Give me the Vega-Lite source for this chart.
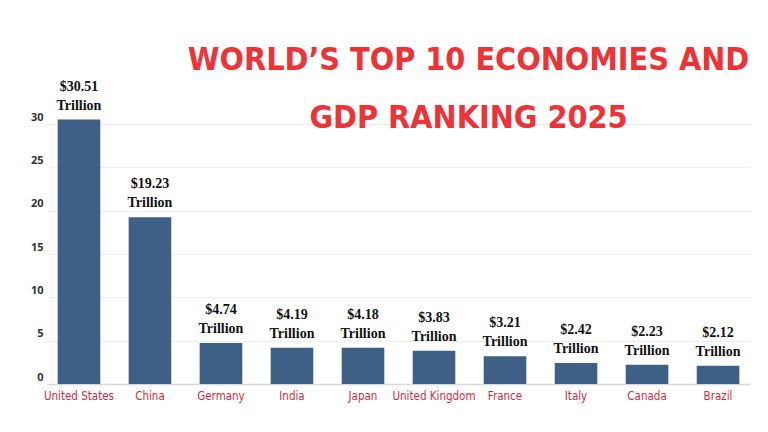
{
  "$schema": "https://vega.github.io/schema/vega-lite/v6.json",
  "width": 703,
  "height": 260,
  "autosize": "none",
  "padding": {"left": 47, "top": 124, "right": 18, "bottom": 48},
  "background": "white",
  "view": {"stroke": null},
  "title": {
    "text": ["WORLD’S TOP 10 ECONOMIES AND", "GDP RANKING 2025"],
    "anchor": "middle",
    "dx": 70,
    "offset": -55,
    "font": "DejaVu Sans Condensed",
    "fontSize": 32,
    "fontWeight": "bold",
    "color": "#ee3338",
    "lineHeight": 58
  },
  "data": {
    "values": [
      {"country": "United States", "gdp": 30.51},
      {"country": "China", "gdp": 19.23},
      {"country": "Germany", "gdp": 4.74},
      {"country": "India", "gdp": 4.19},
      {"country": "Japan", "gdp": 4.18},
      {"country": "United Kingdom", "gdp": 3.83},
      {"country": "France", "gdp": 3.21},
      {"country": "Italy", "gdp": 2.42},
      {"country": "Canada", "gdp": 2.23},
      {"country": "Brazil", "gdp": 2.12}
    ]
  },
  "encoding": {
    "x": {
      "field": "country",
      "type": "nominal",
      "sort": null,
      "title": null,
      "scale": {"paddingInner": 0.4, "paddingOuter": 0.15},
      "axis": {
        "labelAngle": 0,
        "labelColor": "#d42a3c",
        "labelFont": "DejaVu Sans Condensed",
        "labelFontSize": 11.5,
        "labelPadding": 6,
        "ticks": false,
        "domainColor": "#d8d8d8",
        "domainWidth": 1.5
      }
    },
    "y": {
      "field": "gdp",
      "type": "quantitative",
      "title": null,
      "scale": {"domain": [0, 30], "nice": false},
      "axis": {
        "values": [0, 5, 10, 15, 20, 25, 30],
        "domain": false,
        "ticks": false,
        "labelColor": "#333333",
        "labelFont": "Open Sans",
        "labelFontWeight": "bold",
        "labelFontSize": 11,
        "labelPadding": 4,
        "labelOffset": -7,
        "gridColor": "#eeeeee"
      }
    }
  },
  "layer": [
    {"mark": {"type": "bar", "color": "#3e5f86", "clip": false}},
    {
      "mark": {"type": "text", "baseline": "alphabetic", "dy": -29, "font": "Liberation Serif", "fontSize": 14, "fontWeight": "bold", "color": "#111111"},
      "encoding": {"text": {"field": "gdp", "type": "quantitative", "format": "$.2f"}}
    },
    {
      "mark": {"type": "text", "text": "Trillion", "baseline": "alphabetic", "dy": -10, "font": "Liberation Serif", "fontSize": 14, "fontWeight": "bold", "color": "#111111"},
      "encoding": {}
    }
  ]
}
